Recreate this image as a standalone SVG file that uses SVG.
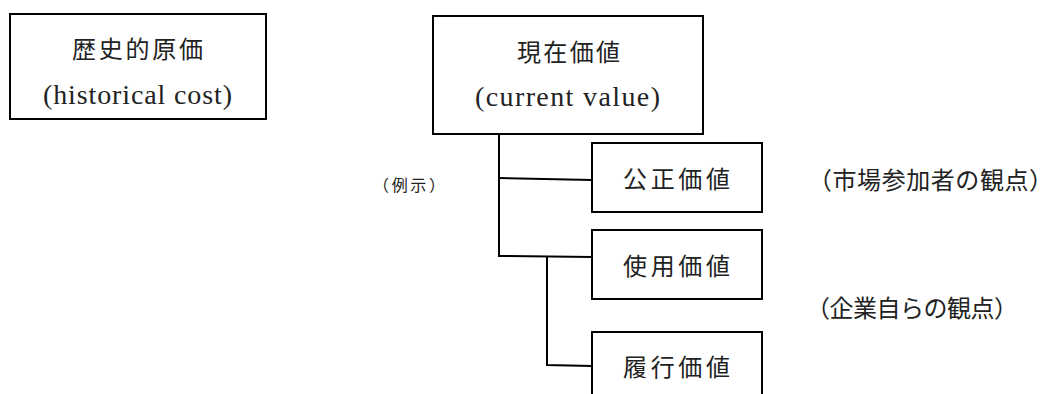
<svg xmlns="http://www.w3.org/2000/svg" width="1057" height="394" viewBox="0 0 1057 394">
<style>
.box{fill:#fff;stroke:#000;stroke-width:2}
.con{fill:none;stroke:#000;stroke-width:2}
.jp{font-family:"Liberation Serif","Noto Sans CJK JP",serif;font-size:24px;fill:#222}
.en{font-family:"Liberation Serif",serif;font-size:28px;fill:#222}
.sm{font-family:"Liberation Serif","Noto Sans CJK JP",serif;font-size:16px;fill:#222}
</style>
<rect width="1057" height="394" fill="#fff"/>
<g id="connectors">
<path class="con" d="M499 132 V257"/>
<path class="con" d="M499 178 L592 180"/>
<path class="con" d="M499 256 L592 257"/>
<path class="con" d="M547 257 V365 L592 366"/>
</g>
<g id="historical-cost">
<rect class="box" x="10" y="14" width="256" height="105"/>
<text class="jp" x="72" y="58" textLength="131" lengthAdjust="spacing">歴史的原価</text>
<text class="en" x="43" y="104" textLength="189" lengthAdjust="spacing">(historical cost)</text>
</g>
<g id="current-value">
<rect class="box" x="433" y="16" width="270" height="118"/>
<text class="jp" x="517" y="61" textLength="103" lengthAdjust="spacing">現在価値</text>
<text class="en" x="475" y="106" textLength="185" lengthAdjust="spacing">(current value)</text>
</g>
<g id="fair-value">
<rect class="box" x="592" y="143" width="170" height="69"/>
<text class="jp" x="623" y="188" textLength="107" lengthAdjust="spacing">公正価値</text>
</g>
<g id="value-in-use">
<rect class="box" x="592" y="230" width="170" height="69"/>
<text class="jp" x="623" y="275" textLength="107" lengthAdjust="spacing">使用価値</text>
</g>
<g id="fulfilment-value">
<rect class="box" x="592" y="332" width="170" height="80"/>
<text class="jp" x="623" y="376" textLength="107" lengthAdjust="spacing">履行価値</text>
</g>
<g id="labels">
<text class="sm" x="373" y="191" textLength="72" lengthAdjust="spacing">（例示）</text>
<text class="jp" x="808" y="189" textLength="245" lengthAdjust="spacing">（市場参加者の観点）</text>
<text class="jp" x="806" y="317" textLength="212" lengthAdjust="spacing">（企業自らの観点）</text>
</g>
</svg>
